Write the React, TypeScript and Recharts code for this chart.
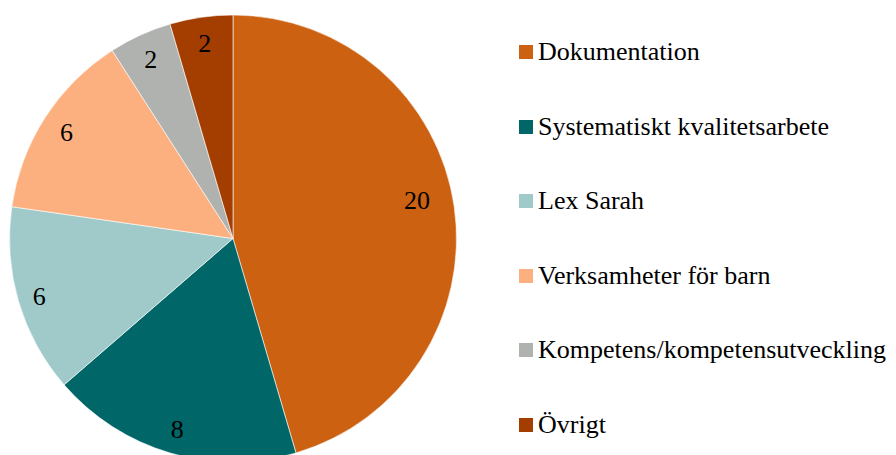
import { Cell, Legend, Pie, PieChart } from "recharts"

const categories = [
  "Dokumentation",
  "Systematiskt kvalitetsarbete",
  "Lex Sarah",
  "Verksamheter för barn",
  "Kompetens/kompetensutveckling",
  "Övrigt",
]
const counts = [20, 8, 6, 6, 2, 2]
const colors = ["#CB6111", "#006668", "#9FCAC9", "#FDB07F", "#B0B2AF", "#A33E00"]

const data = categories.map((name, i) => ({ name, value: counts[i] }))

const FONT = "'Times New Roman', 'Liberation Serif', 'DejaVu Serif', serif"
const RAD = Math.PI / 180

function renderLabel(props: any) {
  const { cx, cy, midAngle, value, index } = props
  // the big slice's label sits a little further in and higher, like the original
  const r = index === 0 ? 186 : index === 2 ? 202 : 198
  const x = cx + r * Math.cos(-midAngle * RAD)
  const y = cy + r * Math.sin(-midAngle * RAD) + (index === 0 ? -12 : 1)
  return (
    <text x={x} y={y} textAnchor="middle" dominantBaseline="central" fill="#000" fontSize={26} style={{ fontFamily: FONT }}>
      {value}
    </text>
  )
}

function LegendList() {
  return (
    <div style={{ fontFamily: FONT, fontSize: 26, color: "#000" }}>
      {data.map((d, i) => (
        <div key={d.name} style={{ display: "flex", alignItems: "center", height: 74.6, whiteSpace: "nowrap" }}>
          <span style={{ width: 14, height: 14, background: colors[i], marginRight: 5, flexShrink: 0 }} />
          <span>{d.name}</span>
        </div>
      ))}
    </div>
  )
}

export default function App() {
  return (
    <div style={{ position: "absolute", left: 0, top: 0, background: "#fff", fontFamily: FONT }}>
      <PieChart width={896} height={455} margin={{ top: 0, right: 0, bottom: 0, left: 0 }}>
        <Pie
          data={data}
          dataKey="value"
          nameKey="name"
          cx={233}
          cy={238.5}
          outerRadius={223.5}
          startAngle={90}
          endAngle={-270}
          stroke="#fff"
          strokeWidth={0.6}
          label={renderLabel}
          labelLine={false}
          isAnimationActive={false}
        >
          {data.map((d, i) => (
            <Cell key={d.name} fill={colors[i]} />
          ))}
        </Pie>
        <Legend
          content={() => <LegendList />}
          wrapperStyle={{ position: "absolute", left: 519, top: 14.7, width: 377 }}
        />
      </PieChart>
    </div>
  )
}
